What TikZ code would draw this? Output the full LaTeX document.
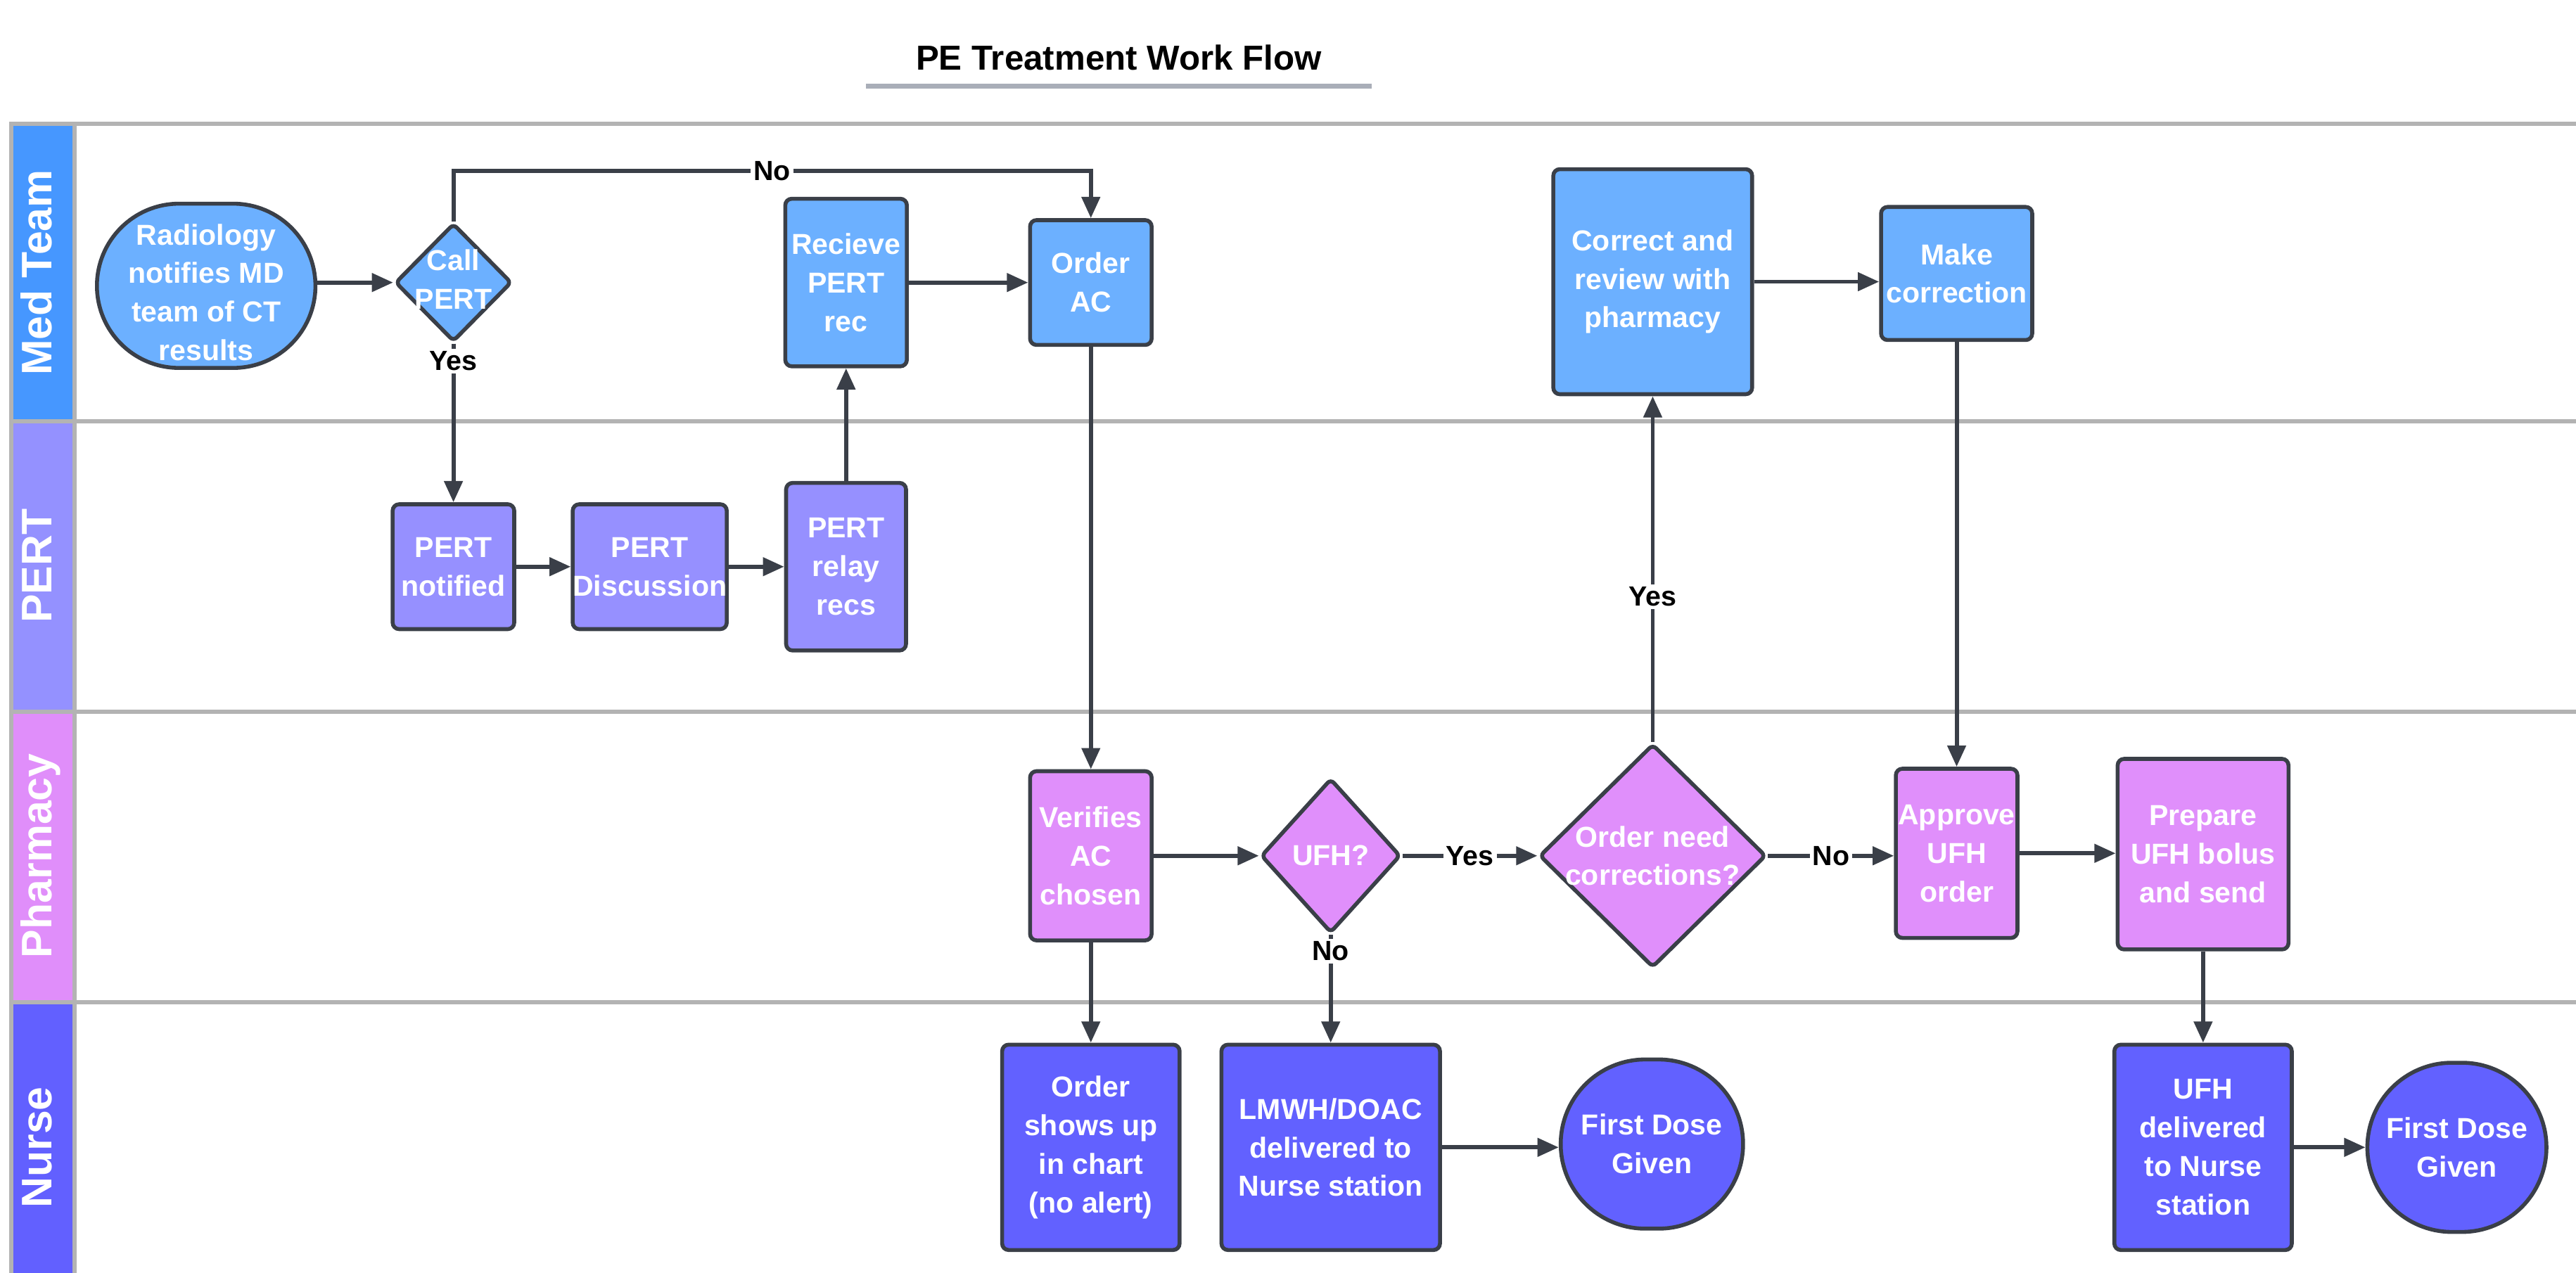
\documentclass[tikz,border=0pt]{standalone}
\usepackage{fontspec}
\setmainfont{Liberation Sans}
\usetikzlibrary{shapes.geometric,shapes.misc,arrows.meta,calc}
\definecolor{medbar}{HTML}{4697FF}
\definecolor{medfill}{HTML}{6CB0FF}
\definecolor{pertbar}{HTML}{9491FF}
\definecolor{pertfill}{HTML}{9690FF}
\definecolor{pharmbar}{HTML}{E08EFA}
\definecolor{pharmfill}{HTML}{E08FFB}
\definecolor{nursebar}{HTML}{6260FF}
\definecolor{nursefill}{HTML}{6261FF}
\definecolor{edgecol}{HTML}{3A3F48}
\definecolor{lanegray}{HTML}{B3B3B3}
\definecolor{titlegray}{HTML}{A9AEB8}
\newcommand\uu{0.025cm}
\begin{document}
\begin{tikzpicture}[x=0.025cm,y=-0.025cm,
  boxtext/.style={text=white, font=\bfseries\fontsize{12.5}{16.7}\selectfont, align=center, inner sep=0pt},
  box/.style={boxtext, rectangle, draw=edgecol, line width=1.7pt, rounded corners=2.8pt},
  stad/.style={boxtext, rounded rectangle, draw=edgecol, line width=1.7pt},
  diam/.style={diamond, draw=edgecol, line width=1.7pt, rounded corners=2pt, inner sep=0pt},
  conn/.style={draw=edgecol, line width=1.8pt, -{Triangle[length=9.2pt,width=7.8pt]}},
  lbl/.style={fill=white, inner sep=1.2pt, font=\bfseries\fontsize{12}{14}\selectfont, text=black},
  lane/.style={draw=lanegray, line width=1.8pt},
  lanelabel/.style={rotate=90, anchor=base, text=white, font=\bfseries\fontsize{18.5}{20}\selectfont}]
\useasboundingbox (0,0) rectangle (1568,774.6);

% title
\node[font=\bfseries\fontsize{15}{18}\selectfont] (title) at (681,35) {PE Treatment Work Flow};
\draw[titlegray, line width=2pt] (527,52.5) -- (835,52.5);

% lanes
\fill[medbar] (6.9,75.4) rectangle (45.4,256.4);
\fill[pertbar] (6.9,256.4) rectangle (45.4,433.3);
\fill[pharmbar] (6.9,433.3) rectangle (45.4,610.3);
\fill[nursebar] (6.9,610.3) rectangle (45.4,790);
\draw[lane] (5.6,75.4) -- (1575,75.4);
\draw[lane] (5.6,256.4) -- (1575,256.4);
\draw[lane] (5.6,433.3) -- (1575,433.3);
\draw[lane] (5.6,610.3) -- (1575,610.3);
\draw[lane] (6.9,74.1) -- (6.9,790);
\draw[lane] (45.4,74.1) -- (45.4,790);
\node[lanelabel] (lmed) at (31.5,166) {Med Team};
\node[lanelabel] (lpert) at (31.5,344.5) {PERT};
\node[lanelabel] (lpharm) at (31.5,521) {Pharmacy};
\node[lanelabel] (lnurse) at (31.5,698.5) {Nurse};

% Med Team
\node[stad, fill=medfill, minimum width=133*\uu, minimum height=100*\uu] (rad) at (125.5,174) {};
\node[boxtext] (radt) at (125.5,178) {Radiology\\notifies MD\\team of CT\\results};
\node[diam, fill=medfill, minimum width=71*\uu, minimum height=72*\uu] (call) at (276,172) {};
\node[boxtext] (callt) at (276,170) {Call\\PERT};
\node[box, fill=medfill, minimum width=74*\uu, minimum height=102*\uu] (recv) at (515,172) {Recieve\\PERT\\rec};
\node[box, fill=medfill, minimum width=74*\uu, minimum height=76*\uu] (orderac) at (664,172) {Order\\AC};
\node[box, fill=medfill, minimum width=121*\uu, minimum height=137*\uu] (correct) at (1006,171.5) {Correct and\\review with\\pharmacy};
\node[box, fill=medfill, minimum width=92*\uu, minimum height=81*\uu] (make) at (1191,166.5) {Make\\correction};
\coordinate (noY) at (0,104);

% PERT
\node[box, fill=pertfill, minimum width=74*\uu, minimum height=76*\uu] (pnot) at (276,345) {PERT\\notified};
\node[box, fill=pertfill, minimum width=91*\uu, minimum height=76*\uu] (pdisc) at (395.5,345) {PERT\\Discussion};
\node[box, fill=pertfill, minimum width=73*\uu, minimum height=102*\uu] (prelay) at (515,345) {PERT\\relay\\recs};

% Pharmacy
\node[box, fill=pharmfill, minimum width=74*\uu, minimum height=103*\uu] (verif) at (664,521) {Verifies\\AC\\chosen};
\node[diam, fill=pharmfill, minimum width=85*\uu, minimum height=94*\uu] (ufh) at (810,521) {};
\node[boxtext] (ufht) at (ufh) {UFH?};
\node[diam, fill=pharmfill, minimum width=138*\uu, minimum height=136*\uu] (need) at (1006,521) {};
\node[boxtext] (needt) at (need) {Order need\\corrections?};
\node[box, fill=pharmfill, minimum width=74*\uu, minimum height=103*\uu] (approve) at (1191,519.5) {Approve\\UFH\\order};
\node[box, fill=pharmfill, minimum width=104*\uu, minimum height=116*\uu] (prep) at (1341,520) {Prepare\\UFH bolus\\and send};

% Nurse
\node[box, fill=nursefill, minimum width=108*\uu, minimum height=125*\uu] (oshow) at (664,698.5) {Order\\shows up\\in chart\\(no alert)};
\node[box, fill=nursefill, minimum width=133*\uu, minimum height=125*\uu] (lmwh) at (810,698.5) {LMWH/DOAC\\delivered to\\Nurse station};
\node[stad, fill=nursefill, minimum width=111*\uu, minimum height=103*\uu] (fd1) at (1005.5,696.5) {First Dose\\Given};
\node[box, fill=nursefill, minimum width=108*\uu, minimum height=125*\uu] (ufhd) at (1341,698.5) {UFH\\delivered\\to Nurse\\station};
\node[stad, fill=nursefill, minimum width=109*\uu, minimum height=103*\uu] (fd2) at (1495.5,698.5) {First Dose\\Given};

% connectors
\draw[conn] (call.west -| rad.east) -- (call.west);
\draw[conn] (call.north) |- node[lbl, pos=0.75] {No} (noY -| orderac.north) -- (orderac.north);
\draw[conn] (call.south) -- node[lbl, pos=0.11] {Yes} (pnot.north);
\draw[conn] (pnot) -- (pdisc);
\draw[conn] (pdisc) -- (prelay);
\draw[conn] (prelay) -- (recv);
\draw[conn] (recv) -- (orderac);
\draw[conn] (orderac) -- (verif);
\draw[conn] (verif) -- (ufh);
\draw[conn] (ufh) -- node[lbl] {Yes} (need);
\draw[conn] (need.east) -- node[lbl] {No} (need.east -| approve.west);
\draw[conn] (approve.east) -- (approve.east -| prep.west);
\draw[conn] (need.north) -- node[lbl, pos=0.42] {Yes} (correct.south);
\draw[conn] (correct.east) -- (correct.east -| make.west);
\draw[conn] (make) -- (approve);
\draw[conn] (verif) -- (oshow);
\draw[conn] (ufh.south) -- node[lbl, pos=0.15] {No} (lmwh.north);
\draw[conn] (prep) -- (ufhd);
\draw[conn] (lmwh.east) -- (lmwh.east -| fd1.west);
\draw[conn] (ufhd.east) -- (ufhd.east -| fd2.west);
\end{tikzpicture}
\end{document}
